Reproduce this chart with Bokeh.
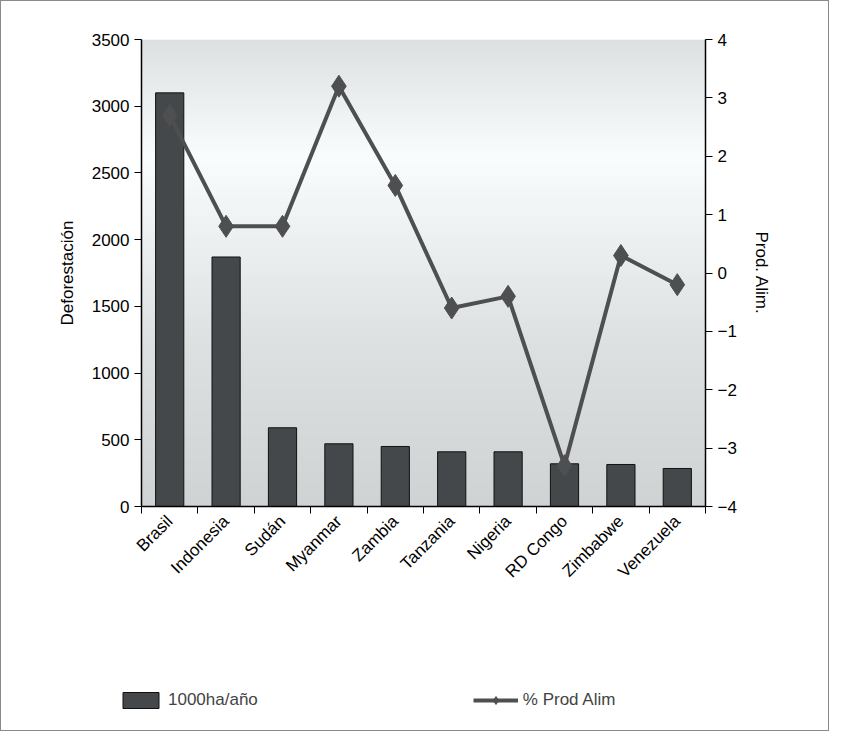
import numpy as np
from bokeh.plotting import figure
from bokeh.layouts import column, row
from bokeh.models import (Range1d, LinearAxis, FixedTicker, Legend, LegendItem,
                          ColumnDataSource)
from bokeh.embed import file_html
from bokeh.resources import INLINE
from math import pi

countries = ["Brasil", "Indonesia", "Sudán", "Myanmar", "Zambia", "Tanzania",
             "Nigeria", "RD Congo", "Zimbabwe", "Venezuela"]
deforest = [3100, 1870, 590, 470, 450, 410, 410, 320, 315, 285]
prod_alim = [2.7, 0.8, 0.8, 3.2, 1.5, -0.6, -0.4, -3.3, 0.3, -0.2]

FONT = "Liberation Sans"
BAR = "#45484a"
LINE = "#4d4f51"
n = len(countries)
xc = [i + 0.5 for i in range(n)]
src = ColumnDataSource(dict(x=xc, d=deforest, p=prod_alim))

p = figure(width=827, height=640, x_range=Range1d(0, n), y_range=Range1d(0, 3500),
           output_backend="svg", toolbar_location=None,
           min_border_left=140, min_border_right=123, min_border_top=38,
           min_border_bottom=135)
p.extra_y_ranges = {"r": Range1d(-4, 4)}
p.grid.visible = False
p.outline_line_color = None
p.border_fill_color = "white"

# background gradient
stops_y = np.linspace(0, 1, 200)
shade = np.interp(stops_y, [0, 0.35, 0.75, 1.0], [208, 222, 250, 222])
img = np.zeros((200, 1), dtype=np.uint32)
v = img.view(dtype=np.uint8).reshape((200, 1, 4))
v[:, 0, 0] = shade.astype(np.uint8)
v[:, 0, 1] = (shade + 3).clip(0, 255).astype(np.uint8)
v[:, 0, 2] = (shade + 3).clip(0, 255).astype(np.uint8)
v[:, 0, 3] = 255
p.image_rgba(image=[img], x=0, y=0, dw=n, dh=3500)

p.vbar(x="x", top="d", width=0.5, source=src, fill_color=BAR, line_color="#111111")
p.line("x", "p", source=src, y_range_name="r", line_color=LINE, line_width=4)
p.scatter("x", "p", source=src, y_range_name="r", marker="diamond", size=22,
          fill_color=LINE, line_color=LINE)

ax = p.xaxis[0]
ax.ticker = FixedTicker(ticks=xc, minor_ticks=list(range(n + 1)))
ax.major_label_overrides = {x: c for x, c in zip(xc, countries)}
ax.major_tick_out = 0
ax.major_tick_in = 0
ax.minor_tick_out = 7
ax.minor_tick_in = 0
ax.major_label_orientation = pi / 4

yl = p.yaxis[0]
yl.ticker = FixedTicker(ticks=list(range(0, 3501, 500)))
yl.axis_label = "Deforestación"

yr = LinearAxis(y_range_name="r", ticker=FixedTicker(ticks=list(range(-4, 5))),
                axis_label="Prod. Alim.")
p.add_layout(yr, "right")

for a in [ax, yl, yr]:
    a.axis_line_color = "black"
    a.axis_line_width = 1.5
    a.major_label_text_font = FONT
    a.major_label_text_font_size = "17px"
    a.major_label_text_color = "black"
    a.axis_label_text_font = FONT
    a.axis_label_text_font_size = "17px"
    a.axis_label_text_font_style = "normal"
    a.axis_label_text_color = "black"
    a.minor_tick_line_color = "black"
    a.major_tick_line_color = "black"
for a in [yl, yr]:
    a.major_tick_in = 0
    a.major_tick_out = 7
    a.minor_tick_out = 0
    a.minor_tick_in = 0
    a.axis_label_standoff = 12

# legend strip (dummy glyphs lie outside its visible range)
lf = figure(width=827, height=89, output_backend="svg", toolbar_location=None,
            min_border=0, x_range=Range1d(0, 1), y_range=Range1d(0, 1),
            x_axis_location=None, y_axis_location=None)
lf.grid.visible = False
lf.outline_line_color = None
lb = lf.vbar(x=[5], top=[5], bottom=[4], width=0.5, fill_color=BAR, line_color="#111111")
ll = lf.line(x=[5, 6], y=[5, 5], line_color=LINE, line_width=4)
lm = lf.scatter(x=[5], y=[5], marker="diamond", size=14, fill_color=LINE, line_color=LINE)
leg = Legend(items=[LegendItem(label="1000ha/año", renderers=[lb]),
                    LegendItem(label="% Prod Alim", renderers=[ll, lm])],
             orientation="horizontal", spacing=215, border_line_color=None,
             background_fill_alpha=0,
             label_text_font=FONT, label_text_font_size="17px",
             glyph_width=45, location=(117, 20))
lf.add_layout(leg, "center")

lay = column(p, row(lf), spacing=0)
lay.styles = {"border": "1px solid #8a8a8a"}

open("out.html", "w").write(file_html(lay, INLINE))
